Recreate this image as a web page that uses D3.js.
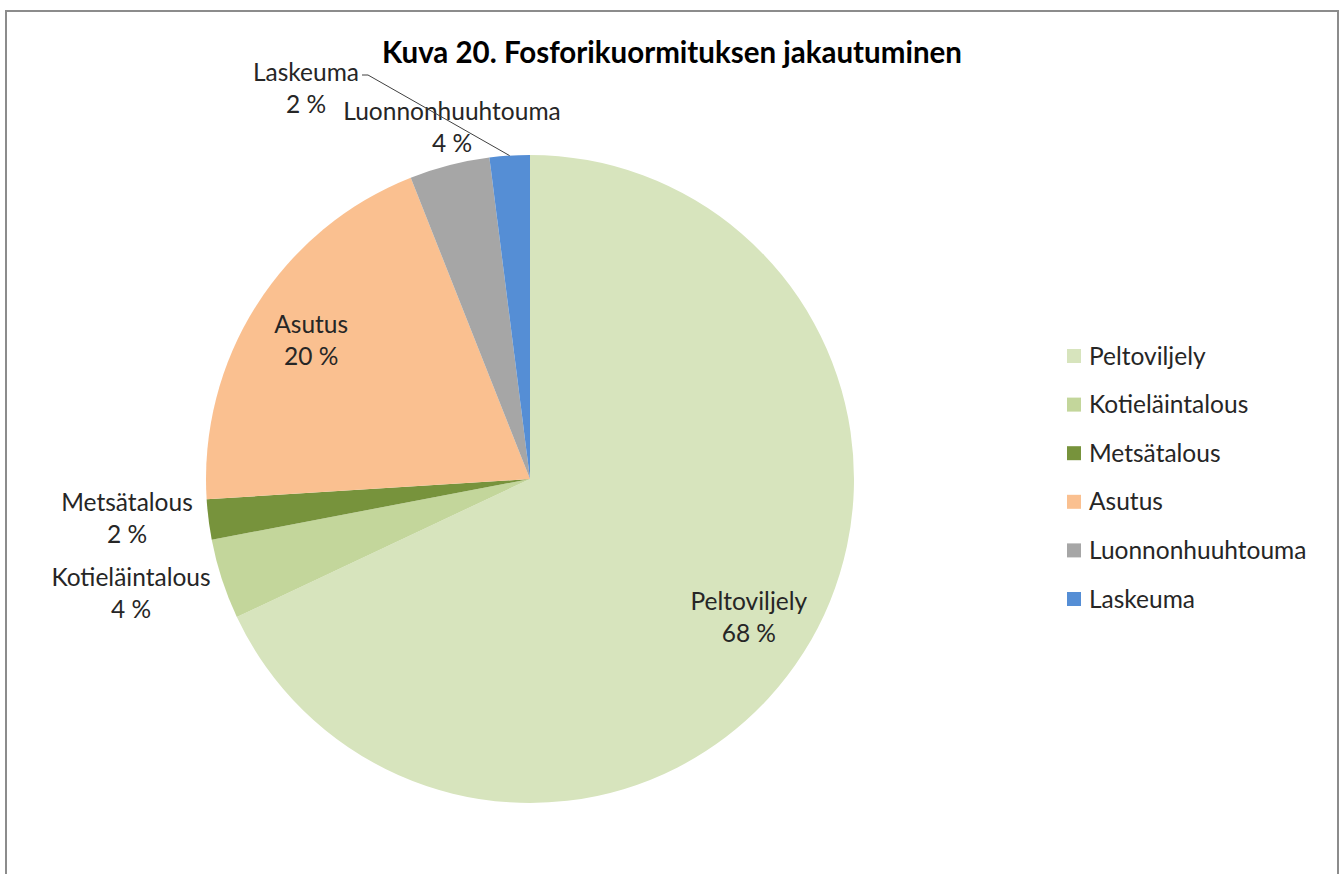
<!DOCTYPE html>
<html>
<head>
<meta charset="utf-8">
<script src="https://cdn.jsdelivr.net/npm/d3@7"></script>
<style>
  html, body { margin: 0; padding: 0; background: #fff; }
  svg { display: block; }
  text { font-family: Lato, "Open Sans", sans-serif; }
</style>
</head>
<body>
<svg id="chart" width="1342" height="874"></svg>
<script>
// Phosphorus load breakdown by source (%)
const categories = ["Peltoviljely", "Kotieläintalous", "Metsätalous", "Asutus", "Luonnonhuuhtouma", "Laskeuma"];
const shares = [68, 4, 2, 20, 4, 2];
const colors = ["#D7E4BD", "#C3D69B", "#77933C", "#FAC090", "#A6A6A6", "#558ED5"];
const title = "Kuva 20. Fosforikuormituksen jakautuminen";

const svg = d3.select("#chart");
const W = 1342, H = 874;
const fontSize = 24.5;

// chart frame
svg.append("rect")
  .attr("x", 6).attr("y", 11)
  .attr("width", 1332).attr("height", H + 20)
  .attr("fill", "#fff")
  .attr("stroke", "#8c8c8c").attr("stroke-width", 2);

svg.append("text")
  .attr("x", 672).attr("y", 63)
  .attr("text-anchor", "middle")
  .attr("font-size", 29.5).attr("font-weight", 700)
  .attr("fill", "#000")
  .text(title);

const cx = 530, cy = 479, R = 324;
const data = categories.map((c, i) => ({ name: c, value: shares[i], color: colors[i] }));

const pie = d3.pie().value(d => d.value).sort(null);
const arcs = pie(data);
const arc = d3.arc().innerRadius(0).outerRadius(R);
const labelArc = d3.arc().innerRadius(R * 0.8).outerRadius(R * 0.8);

const g = svg.append("g").attr("transform", `translate(${cx},${cy})`);

g.selectAll("path.slice")
  .data(arcs)
  .join("path")
  .attr("class", "slice")
  .attr("d", arc)
  .attr("fill", d => d.data.color);

// label placement: inside slices use the centroid, narrow slices sit outside
const outside = {
  "Kotieläintalous": [-399, 114],
  "Metsätalous": [-403, 39],
  "Luonnonhuuhtouma": [-78, -352],
  "Laskeuma": [-224, -391]
};

const lineGap = 32;
arcs.forEach(a => {
  const p = outside[a.data.name] || labelArc.centroid(a);
  const t = g.append("text")
    .attr("text-anchor", "middle")
    .attr("font-size", fontSize)
    .attr("fill", "#262626");
  t.append("tspan").attr("x", p[0]).attr("y", p[1] - lineGap / 2).attr("dy", "0.35em").text(a.data.name);
  t.append("tspan").attr("x", p[0]).attr("y", p[1] + lineGap / 2).attr("dy", "0.35em").text(a.data.value + " %");
});

// leader line for the smallest slice
const las = arcs[categories.indexOf("Laskeuma")];
const mid = (las.startAngle + las.endAngle) / 2;
const edge = [Math.sin(mid) * R, -Math.cos(mid) * R];
const lp = outside["Laskeuma"];
g.append("path")
  .attr("d", d3.line()([edge, [lp[0] + 62, lp[1] - 13], [lp[0] + 56, lp[1] - 13]]))
  .attr("fill", "none")
  .attr("stroke", "#404040")
  .attr("stroke-width", 1);

// legend
const legend = svg.append("g").attr("transform", "translate(1067,356)");
const rows = legend.selectAll("g")
  .data(data)
  .join("g")
  .attr("transform", (d, i) => `translate(0,${i * 48.6})`);
rows.append("rect")
  .attr("x", 0).attr("y", -7)
  .attr("width", 14).attr("height", 14)
  .attr("fill", d => d.color);
rows.append("text")
  .attr("x", 22).attr("y", 0).attr("dy", "0.35em")
  .attr("font-size", fontSize)
  .attr("fill", "#262626")
  .text(d => d.name);
</script>
</body>
</html>
